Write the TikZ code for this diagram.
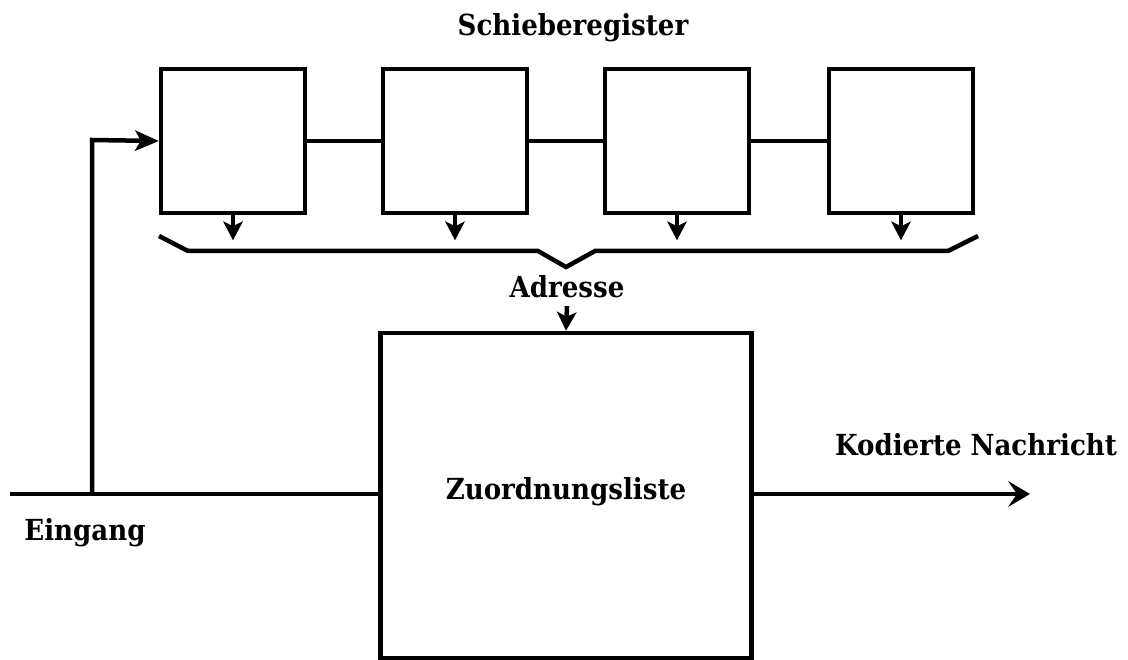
\documentclass[tikz,border=0pt]{standalone}
\usepackage{fontspec}
\setmainfont{DejaVu Serif Condensed}
\usetikzlibrary{arrows.meta}
\tikzset{
  wire/.style={line width=4.5pt, line cap=butt, line join=miter},
  reg/.style={draw, line width=4.5pt, minimum width=144pt, minimum height=144pt, inner sep=0pt},
  lbl/.style={font=\fontsize{29}{34}\selectfont\bfseries, inner sep=0pt},
  tip/.style={-{Stealth[length=24pt,width=21pt,inset=6pt,line width=0pt]}},
  outtip/.style={-{Stealth[length=22pt,width=26pt,inset=9pt,line width=0pt]}},
  smalltip/.style={-{Stealth[length=19pt,width=20pt,inset=5pt,line width=0pt]}},
}
\begin{document}
\begin{tikzpicture}[x=1pt,y=-1pt]
\useasboundingbox (0,0) rectangle (1128,660);
% shift register cells
\node[reg] (r1) at (233,141) {};
\node[reg] (r2) at (455,141) {};
\node[reg] (r3) at (677,141) {};
\node[reg] (r4) at (901,141) {};
\node[lbl] (title) at (573,28) {Schieberegister};
% links between cells
\draw[wire] (r1.east) -- (r2.west);
\draw[wire] (r2.east) -- (r3.west);
\draw[wire] (r3.east) -- (r4.west);
% taps from each cell
\foreach \r in {r1,r2,r3,r4}
  \draw[wire,smalltip] (\r.south) -- ++(0,25);
% collecting brace
\coordinate (bl) at (159,236);
\coordinate (br) at (978,236);
\coordinate (bm) at (566,267);
\draw[wire] (bl) -- (188,251) -- (538,251) -- (bm) -- (595,251) -- (948,251) -- (br);
\node[lbl] (adr) at (567,287) {Adresse};
% lookup table
\node[draw, line width=4.5pt, minimum width=371pt, minimum height=325pt, inner sep=0pt] (tab) at (566,495.5) {};
\node[lbl] (zl) at (566,492) {Zuordnungsliste};
\draw[wire,smalltip] (567,306) -- (tab.north);
% input
\coordinate (in) at (10,494);
\coordinate (fork) at (92,494);
\draw[wire] (in) -- (tab.west |- in);
\draw[wire,tip] (fork) -- (92,140) -- (r1.west);
\node[lbl] (ein) at (85,533) {Eingang};
% output
\coordinate (out) at (1030,494);
\draw[wire,outtip] (tab.east |- out) -- (out);
\node[lbl] (kn) at (976,445) {Kodierte Nachricht};
\end{tikzpicture}
\end{document}
